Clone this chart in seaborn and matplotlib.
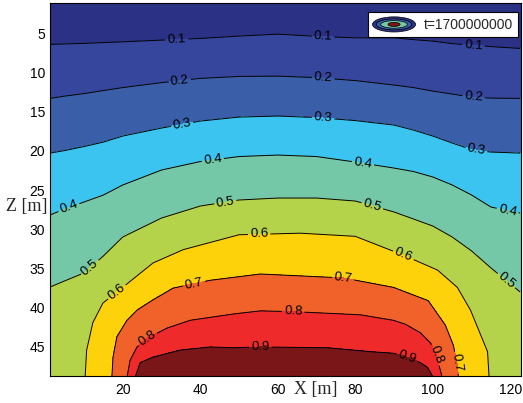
import numpy as np
import matplotlib
matplotlib.use("Agg")
import matplotlib.pyplot as plt
import seaborn as sns
from matplotlib.legend_handler import HandlerBase
from matplotlib.patches import Ellipse, Patch

# ---------------- data ----------------
levels = [0.0, 0.1, 0.2, 0.3, 0.4, 0.5, 0.6, 0.7, 0.8, 0.9, 1.0]
band_colors = ["#2B3185", "#36469D", "#3A5FA8", "#3CC4F0", "#74C8A8",
               "#B5D34A", "#FDD20A", "#F0622A", "#EE2A2A", "#7A1518"]

# depth (Z) of each iso-line, read along these X columns
x_cols = [1.25, 5, 10, 15, 20, 30, 40, 50, 60, 70, 80, 90, 95, 100, 105, 110, 115, 122.5]
z_01 = [6.44, 6.38, 6.31, 6.21, 6.11, 5.89, 5.68, 5.38, 5.13, 5.41, 5.60, 5.60, 5.83, 6.02, 6.34, 6.53, 6.72, 6.95]
z_02 = [13.32, 13.03, 12.71, 12.32, 11.94, 11.31, 10.77, 10.52, 10.48, 10.67, 11.05, 11.62, 11.94, 12.39, 12.77, 13.15, 13.28, 13.32]
z_03 = [20.29, 19.97, 19.46, 18.89, 18.12, 17.10, 16.21, 15.70, 15.57, 15.76, 16.15, 16.72, 17.36, 18.12, 19.01, 19.84, 20.16, 20.29]
z_04 = [28.18, 27.42, 26.53, 25.64, 24.36, 22.45, 21.37, 20.73, 20.54, 20.73, 21.43, 22.20, 22.64, 23.34, 24.36, 25.64, 27.17, 27.93]
z_05 = [37.36, 36.59, 35.57, 33.41, 30.99, 28.57, 27.04, 26.27, 26.02, 26.02, 26.40, 27.80, 28.69, 29.59, 30.99, 32.77, 34.94, 37.99]

# iso-lines that reach the bottom: points
x_06 = [1.25, 10.3, 10.7, 12.3, 14.9, 18.5, 27.8, 35.6, 50.0, 65.8, 80.0, 92.4, 101.2, 106.3, 109.7, 114.1, 114.5, 122.5]
z_06 = [55, 48.9, 45.4, 41.9, 39.4, 38.0, 34.3, 32.6, 30.7, 30.5, 30.9, 33.3, 35.2, 37.4, 40.3, 45.6, 48.9, 55]
x_07 = [1.25, 17.2, 17.5, 18.5, 21.1, 23.7, 27.8, 33.0, 42.6, 55.5, 76.9, 89.8, 98.8, 103.2, 105.3, 106.3, 106.6, 122.5]
z_07 = [57, 48.9, 46.3, 43.7, 41.6, 40.3, 39.0, 37.5, 36.5, 35.7, 36.2, 37.4, 39.1, 42.2, 44.8, 47.3, 48.9, 57]
x_08 = [1.25, 21.1, 21.9, 23.7, 26.3, 31.4, 37.4, 48.5, 55.5, 64.0, 81.3, 89.8, 92.9, 96.8, 99.4, 100.9, 102.4, 122.5]
z_08 = [59, 48.9, 46.7, 45.0, 43.9, 42.6, 41.6, 40.8, 40.4, 40.5, 40.9, 41.6, 42.1, 43.2, 44.5, 46.0, 48.9, 59]
x_09 = [1.25, 23.2, 24.5, 27.8, 34.8, 42.6, 48.5, 55.5, 72.8, 83.9, 89.8, 93.4, 96.8, 98.6, 100.1, 108.0, 115.0, 122.5]
z_09 = [61, 48.9, 47.0, 46.3, 45.4, 45.0, 45.1, 45.0, 45.1, 45.6, 45.8, 46.3, 47.0, 47.6, 48.9, 55, 58, 61]

z_domain_top = 0.0
z_domain_bottom = 63.0

# contour label positions (x, z)
label_pos = [
    (34.0, 5.9), (71.7, 5.5), (110.5, 6.5),
    (34.8, 11.4), (71.7, 10.9), (110.5, 13.2),
    (35.4, 16.8), (71.7, 15.8), (111.2, 19.9),
    (6.4, 27.6), (43.3, 21.4), (82.0, 21.5), (119.2, 27.8),
    (11.6, 34.9), (46.4, 26.3), (84.6, 26.6), (118.7, 36.7),
    (18.5, 38.0), (55.2, 30.8), (92.4, 33.3),
    (38.3, 36.7), (76.9, 36.2), (106.3, 47.0),
    (26.3, 43.9), (64.0, 40.5), (101.0, 46.0),
    (55.5, 45.0), (93.4, 46.3),
]

legend_label = "t=1700000000"
x_ticks = [20, 40, 60, 80, 100, 120]
z_ticks = [5, 10, 15, 20, 25, 30, 35, 40, 45]

# ---------------- build the curvilinear grid ----------------
n = len(x_cols)
X = np.array([x_cols, x_cols, x_cols, x_cols, x_cols, x_cols,
              x_06, x_07, x_08, x_09, x_cols], dtype=float)
Z = np.array([np.full(n, z_domain_top), z_01, z_02, z_03, z_04, z_05,
              z_06, z_07, z_08, z_09, np.full(n, z_domain_bottom)], dtype=float)
V = np.repeat(np.array(levels)[:, None], n, axis=1)

# ---------------- styling ----------------
sns.set_theme(style="white")
plt.rcParams["font.family"] = ["Liberation Sans", "DejaVu Sans"]
palette = sns.color_palette(band_colors)

fig = plt.figure(figsize=(5.23, 4.03), dpi=100)
ax = fig.add_axes([50 / 523, 1 - 376 / 403, 470.5 / 523, 372.7 / 403])

ax.contourf(X, Z, V, levels=levels, colors=palette)
cs = ax.contour(X, Z, V, levels=levels[1:-1], colors="black", linewidths=0.7)

ax.set_xlim(1.25, 122.6)
ax.set_ylim(48.7, 1.2)
ax.clabel(cs, manual=label_pos, inline=True, inline_spacing=2,
          fmt="%.1f", fontsize=9.5, colors="black")

ax.set_xticks(x_ticks)
ax.set_yticks(z_ticks)
ax.tick_params(axis="both", direction="in", top=True, right=True,
               length=4, width=0.8, labelsize=10, colors="black")
ax.tick_params(axis="x", pad=5)
ax.tick_params(axis="y", pad=3.5)
for s in ax.spines.values():
    s.set_color("black")
    s.set_linewidth(0.8)

ax.set_xlabel("X [m]", family="Liberation Serif", fontsize=13, va="center")
ax.xaxis.set_label_coords(0.565, -0.035)
ax.set_ylabel("Z [m]", family="Liberation Serif", fontsize=13,
              rotation=0, ha="center", va="center")
ax.yaxis.set_label_coords(-0.049, 0.4535)


class ContourIcon(HandlerBase):
    def create_artists(self, legend, orig_handle, xdescent, ydescent,
                       width, height, fontsize, trans):
        cx = width / 2 - xdescent
        cy = height / 2 - ydescent
        specs = [(1.0, 1.0, band_colors[0]), (0.82, 0.72, band_colors[2]),
                 (0.62, 0.5, band_colors[4]), (0.28, 0.27, band_colors[9])]
        arts = []
        for fw, fh, fc in specs:
            e = Ellipse((cx, cy), width * fw, height * fh, facecolor=fc,
                        edgecolor="black", linewidth=0.5, transform=trans)
            arts.append(e)
        return arts


handle = Patch(facecolor=band_colors[0])
leg = ax.legend([handle], [legend_label], loc="upper right",
                bbox_to_anchor=(0.9947, 0.9767), borderaxespad=0,
                handler_map={Patch: ContourIcon()}, fontsize=10,
                handlelength=3.1, handleheight=1.3, handletextpad=0.6,
                borderpad=0.35, fancybox=False, framealpha=1)
leg.get_frame().set_edgecolor("black")
leg.get_frame().set_linewidth(0.8)

fig.savefig("out.png", dpi=100)
